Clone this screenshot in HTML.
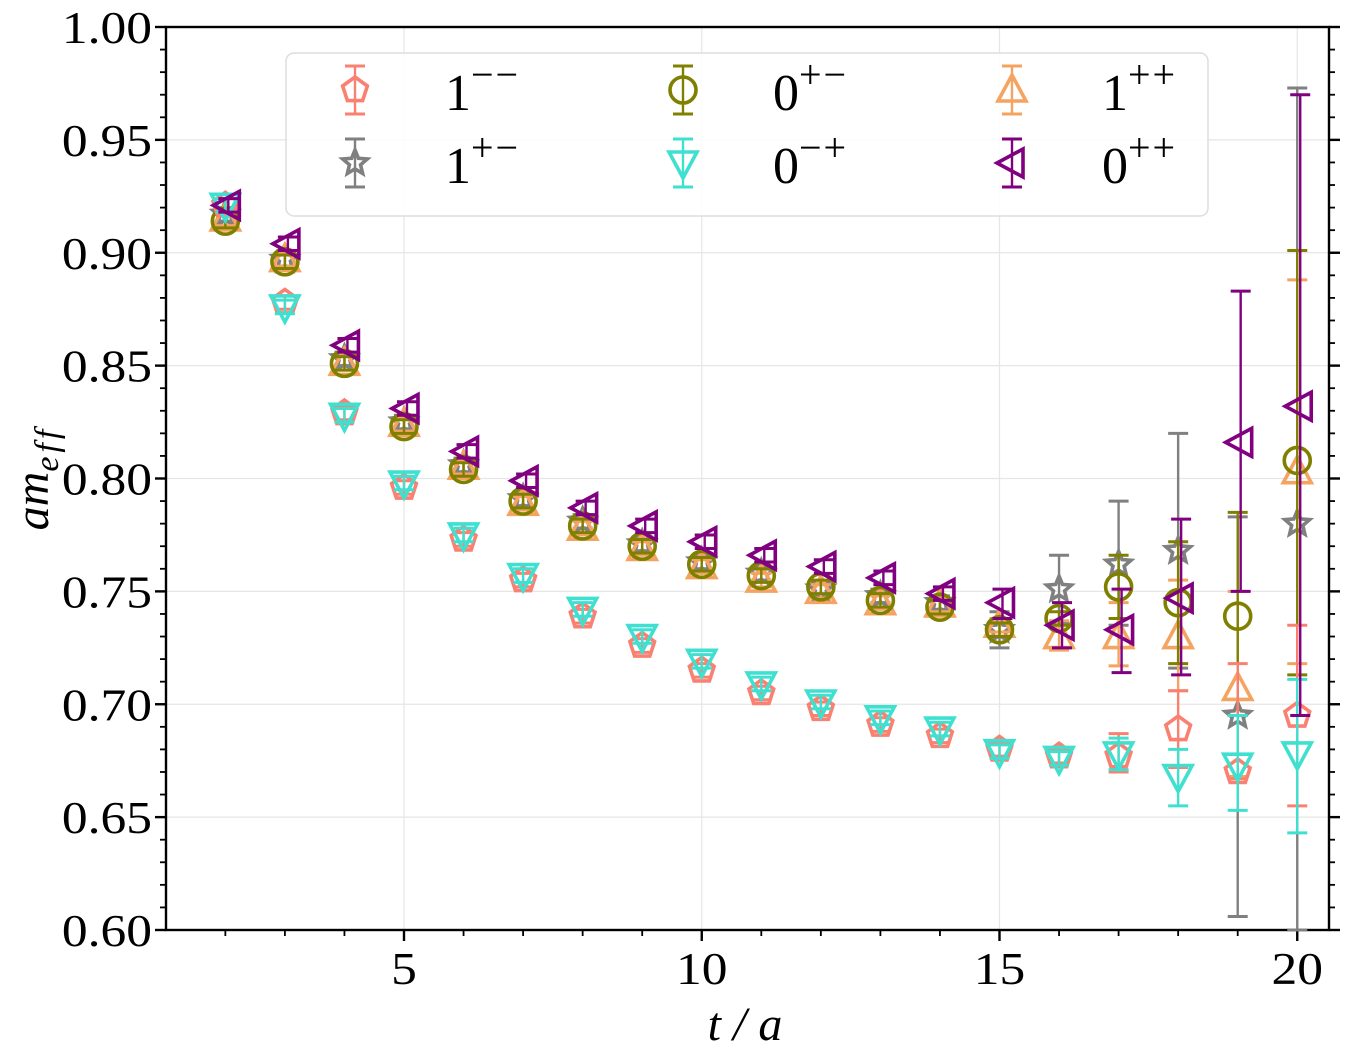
<!DOCTYPE html>
<html><head><meta charset="utf-8">
<style>
body{margin:0;background:#fff;}
svg{display:block;font-family:"Liberation Serif",serif;}
</style></head>
<body>
<svg id="s" width="1347" height="1056" xmlns="http://www.w3.org/2000/svg"></svg>
<script>
const s=document.getElementById('s');
const L=166,R=1329,T=27,B=930;
const X=t=>404+(t-5)*59.55;
const Y=v=>27+(1-v)/0.4*903;
let h='';
for(let t=5;t<=20;t+=5)h+=`<line x1="${X(t)}" y1="${T}" x2="${X(t)}" y2="${B}" stroke="#e6e6e6" stroke-width="1.2"/>`;
for(let i=1;i<8;i++){const v=0.6+i*0.05;h+=`<line x1="${L}" y1="${Y(v)}" x2="${R}" y2="${Y(v)}" stroke="#e6e6e6" stroke-width="1.2"/>`;}
for(let i=0;i<=40;i++){const v=0.6+i*0.01,y=Y(v),maj=i%5==0;const l=maj?11:6;
h+=`<line x1="${L-l}" y1="${y}" x2="${L}" y2="${y}" stroke="#000" stroke-width="${maj?2.4:1.8}"/>`;
h+=`<line x1="${R}" y1="${y}" x2="${R+l}" y2="${y}" stroke="#000" stroke-width="${maj?2.4:1.8}"/>`;
if(maj)h+=`<text transform="translate(${L-14},${y+16}) scale(1.12,1)" font-size="46" text-anchor="end">${v.toFixed(2)}</text>`;}
for(let t=2;t<=20;t++){const maj=t%5==0,l=maj?11:6;h+=`<line x1="${X(t)}" y1="${B}" x2="${X(t)}" y2="${B+l}" stroke="#000" stroke-width="${maj?2.4:1.8}"/>`;
if(maj)h+=`<text transform="translate(${X(t)},${B+54}) scale(1.12,1)" font-size="46" text-anchor="middle">${t}</text>`;}
h+=`<rect x="${L}" y="${T}" width="${R-L}" height="${B-T}" fill="none" stroke="#000" stroke-width="2.4"/>`;
h+=`<text x="745" y="1040" font-size="48" font-style="italic" text-anchor="middle">t / a</text>`;
h+=`<text transform="translate(48,478) rotate(-90)" font-size="48" font-style="italic" text-anchor="middle">am<tspan font-size="34" dy="10" letter-spacing="4">eff</tspan></text>`;
function mk(type,x,y,c){const r=13;let p;
 if(type=='pent'){p=[];for(let k=0;k<5;k++){const a=-Math.PI/2+k*2*Math.PI/5;p.push([x+r*Math.cos(a),y+r*Math.sin(a)]);}}
 else if(type=='circ')return `<circle cx="${x}" cy="${y}" r="${r}" fill="none" stroke="${c}" stroke-width="3.6"/>`;
 else if(type=='up')p=[[x,y-r-2],[x+r+1,y+r-2],[x-r-1,y+r-2]];
 else if(type=='down')p=[[x,y+r+2],[x+r+1,y-r+2],[x-r-1,y-r+2]];
 else if(type=='left')p=[[x-r-2,y],[x+r-2,y-r-1],[x+r-2,y+r+1]];
 else if(type=='star'){p=[];for(let k=0;k<10;k++){const a=-Math.PI/2+k*Math.PI/5,rr=k%2?r*0.45:r;p.push([x+rr*Math.cos(a),y+rr*Math.sin(a)]);}}
 return `<polygon points="${p.map(q=>q.join(',')).join(' ')}" fill="none" stroke="${c}" stroke-width="3.6" stroke-linejoin="miter"/>`;}
function eb(x,y1,y2,c){y1=Math.min(Math.max(y1,T),B);y2=Math.min(Math.max(y2,T),B);
 return `<line x1="${x}" y1="${y1}" x2="${x}" y2="${y2}" stroke="${c}" stroke-width="2.4"/><line x1="${x-10}" y1="${y1}" x2="${x+10}" y2="${y1}" stroke="${c}" stroke-width="3"/><line x1="${x-10}" y1="${y2}" x2="${x+10}" y2="${y2}" stroke="${c}" stroke-width="3"/>`;}
const S=[
['star','#808080',0,[0.917,0.897,0.853,0.825,0.806,0.791,0.781,0.771,0.763,0.758,0.751,0.748,0.745,0.733,0.751,0.762,0.768,0.695,0.780],{13:[0.725,0.741],14:[0.736,0.766],15:[0.735,0.790],16:[0.716,0.820],17:[0.606,0.783],18:[0.55,0.973]}],
['up','#f4a460',0,[0.915,0.897,0.851,0.824,0.805,0.789,0.778,0.769,0.761,0.755,0.750,0.745,0.744,0.735,0.730,0.730,0.730,0.707,0.803],{14:[0.724,0.737],15:[0.717,0.745],16:[0.706,0.755],17:[0.668,0.750],18:[0.718,0.888]}],
['circ','#808000',0,[0.914,0.896,0.851,0.823,0.804,0.790,0.779,0.770,0.762,0.757,0.752,0.746,0.743,0.733,0.738,0.752,0.745,0.739,0.808],{15:[0.738,0.766],16:[0.718,0.772],17:[0.695,0.785],18:[0.713,0.901]}],
['pent','#fa8072',0,[0.921,0.878,0.829,0.796,0.773,0.755,0.739,0.726,0.715,0.705,0.698,0.691,0.686,0.680,0.677,0.677,0.689,0.670,0.695],{15:[0.670,0.687],16:[0.672,0.706],17:[0.667,0.718],18:[0.655,0.735]}],
['down','#40e0d0',0,[0.921,0.876,0.828,0.798,0.775,0.757,0.742,0.730,0.719,0.709,0.701,0.694,0.689,0.679,0.676,0.678,0.668,0.673,0.678],{15:[0.671,0.685],16:[0.655,0.680],17:[0.653,0.695],18:[0.643,0.711]}],
['left','#800080',0.05,[0.921,0.904,0.859,0.831,0.812,0.799,0.787,0.779,0.772,0.766,0.761,0.756,0.749,0.745,0.735,0.733,0.747,0.816,0.832],{13:[0.738,0.751],14:[0.725,0.745],15:[0.714,0.751],16:[0.713,0.782],17:[0.750,0.883],18:[0.695,0.970]}]];
for(const [ty,c,dx,vals,errs] of S){vals.forEach((v,i)=>{const t=i+2,x=X(t+dx);const e=errs[i]||[v-0.003,v+0.003];
 h+=eb(x,Y(e[0]),Y(e[1]),c);h+=mk(ty,x,Y(v),c);});}
h+=`<rect x="286" y="53" width="922" height="163" rx="8" fill="#fff" fill-opacity="0.85" stroke="#ddd" stroke-width="1.5"/>`;
const leg=[['pent','#fa8072',355,90,'1','−−'],['circ','#808000',683,90,'0','+−'],['up','#f4a460',1012,90,'1','++'],
['star','#808080',355,163,'1','+−'],['down','#40e0d0',683,163,'0','−+'],['left','#800080',1012,163,'0','++']];
for(const [ty,c,x,y,a,b] of leg){h+=eb(x,y-24,y+24,c)+mk(ty,x,y,c);
 h+=`<text x="${x+90}" y="${y+20}" font-size="52">${a}<tspan font-size="40" dy="-22" letter-spacing="2">${b}</tspan></text>`;}
s.innerHTML=h;
</script>
</body></html>
